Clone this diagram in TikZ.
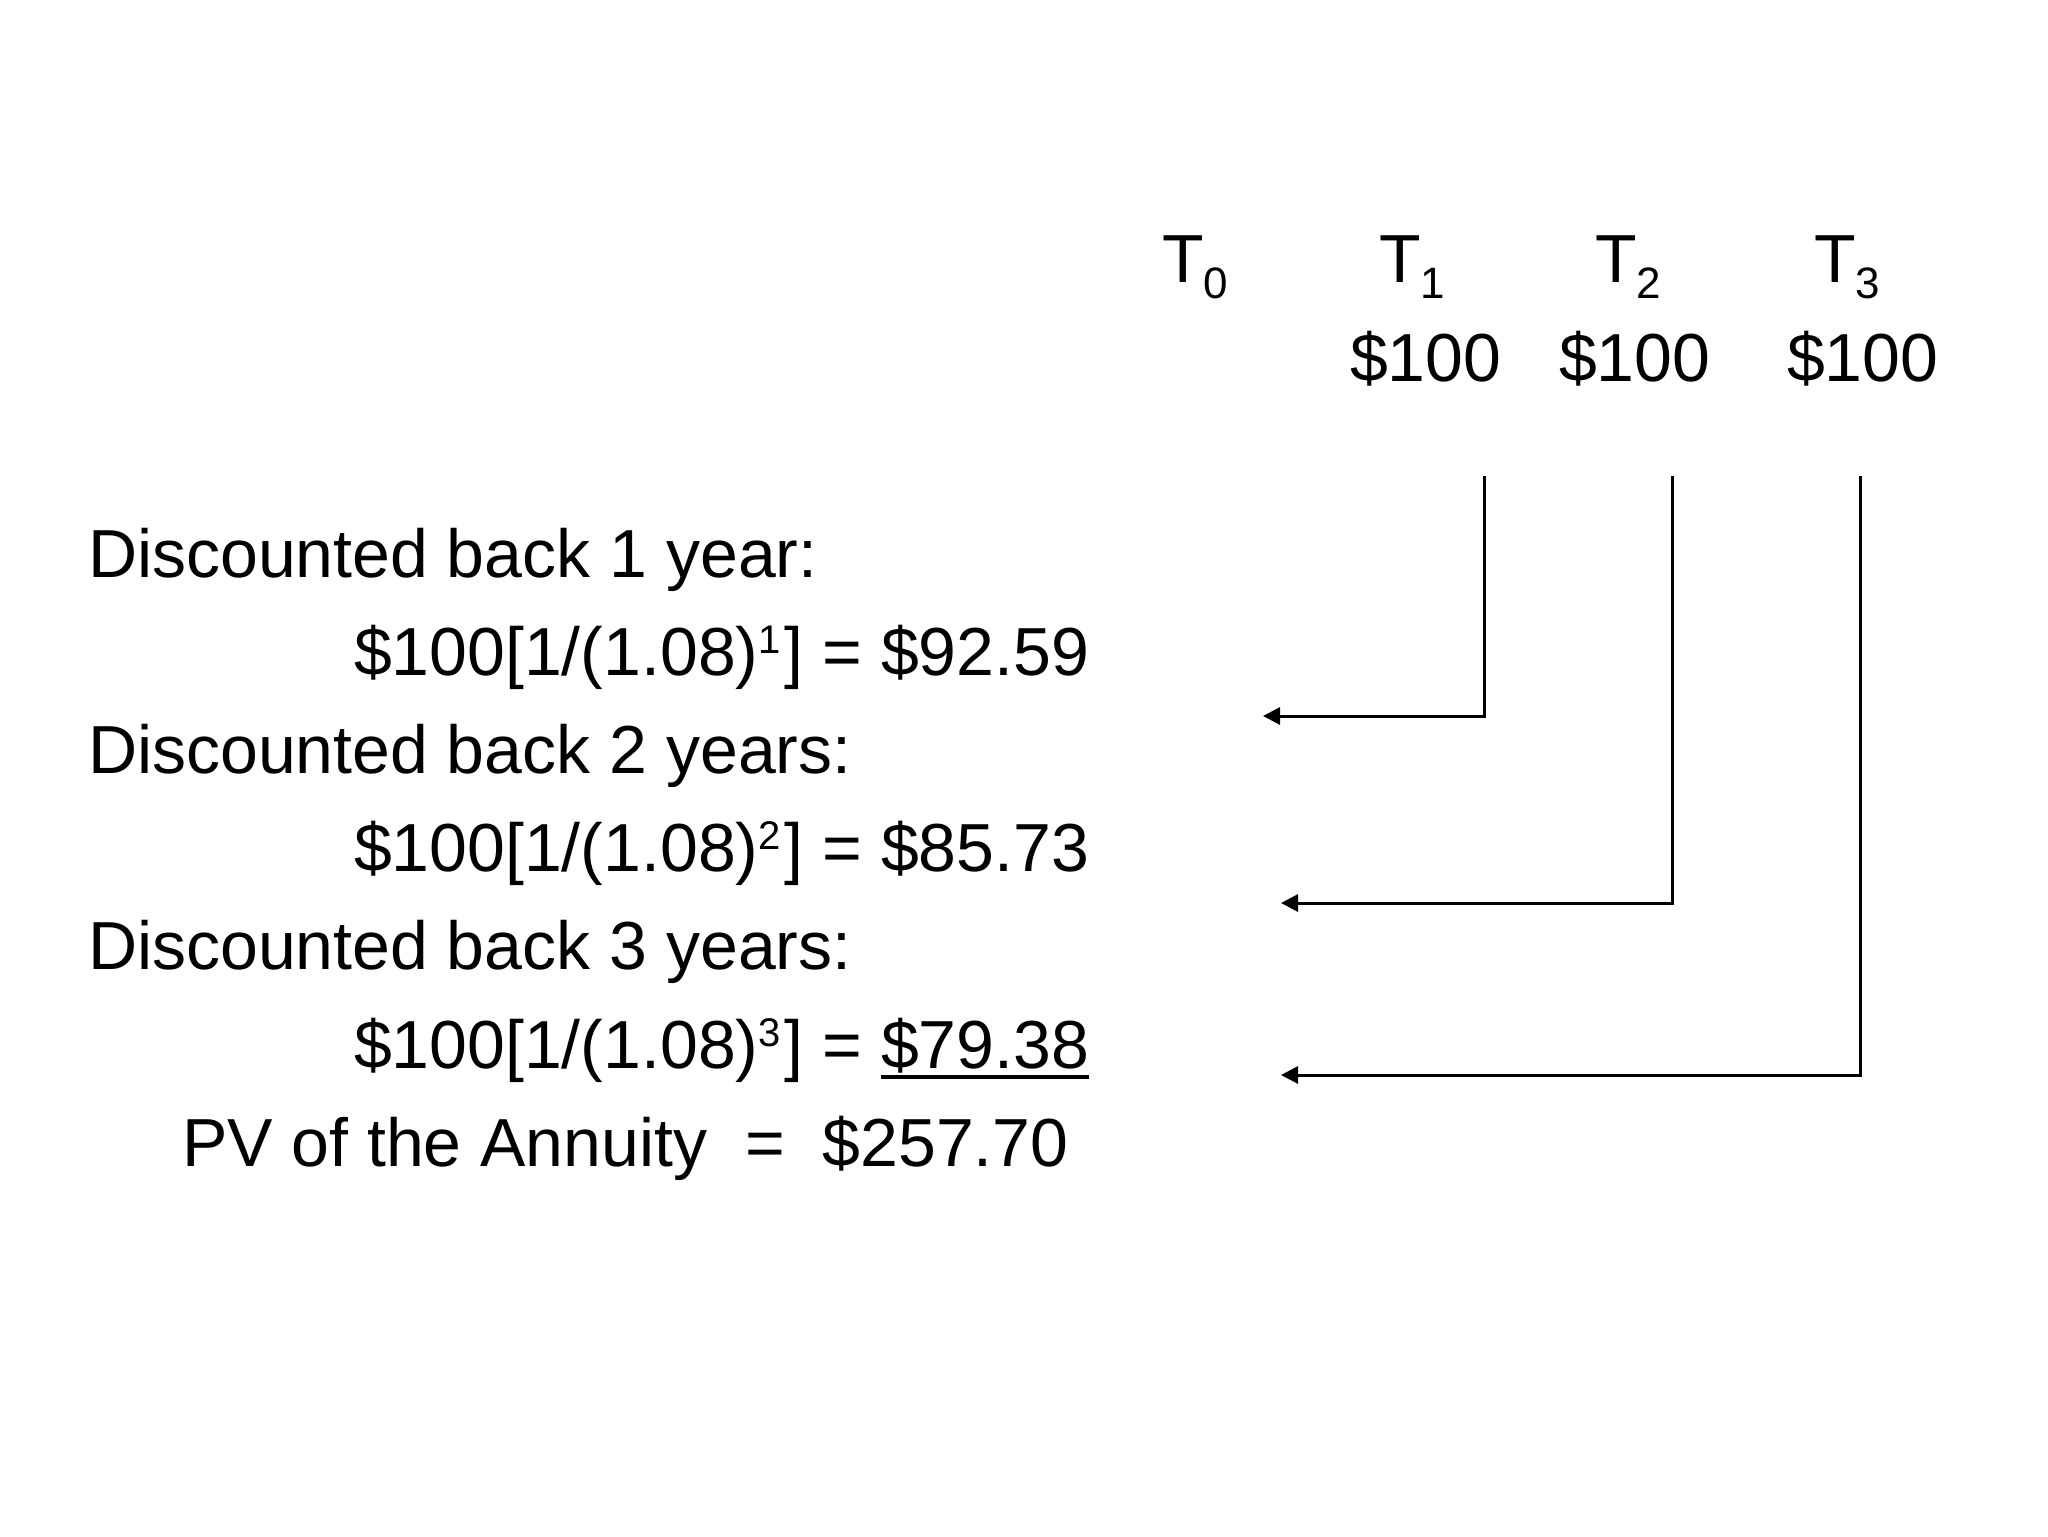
\documentclass[tikz,border=0pt]{standalone}
\usepackage{fontspec}
\setmainfont{Liberation Sans}
\usetikzlibrary{arrows.meta}
\newcommand\supr[1]{\raisebox{11pt}{\fontsize{20}{22}\selectfont #1}\hspace{2pt}}
\newcommand\subs[1]{\raisebox{-8pt}{\fontsize{22}{24}\selectfont #1}}
\newcommand\myul[1]{\setbox0=\hbox{#1}\rlap{\rule[-5.5pt]{\wd0}{2pt}}\box0}
\tikzset{
  txt/.style={anchor=base west, inner sep=0pt, outer sep=0pt, font=\fontsize{34}{40}\selectfont},
  conn/.style={draw=black, line width=1.5pt, -{Triangle[length=8.5pt,width=8.5pt]}}
}
\begin{document}
\begin{tikzpicture}[x=0.5pt,y=-0.5pt]
\useasboundingbox[fill=white] (0,0) rectangle (2048,1536);
% time line header
\node[txt] (t0) at (1162,282) {T\subs{0}};
\node[txt] (t1) at (1379,282) {T\subs{1}};
\node[txt] (t2) at (1595,282) {T\subs{2}};
\node[txt] (t3) at (1814,282) {T\subs{3}};
\node[txt] (c1) at (1350,381) {\$100};
\node[txt] (c2) at (1559,381) {\$100};
\node[txt] (c3) at (1787,381) {\$100};
% left text
\node[txt] (d1) at (88,577) {Discounted back 1 year:};
\node[txt] (f1) at (354,675) {\$100[1/(1.08)\supr{1}] = \$92.59};
\node[txt] (d2) at (88,773) {Discounted back 2 years:};
\node[txt] (f2) at (354,871) {\$100[1/(1.08)\supr{2}] = \$85.73};
\node[txt] (d3) at (88,969) {Discounted back 3 years:};
\node[txt] (f3) at (354,1068) {\$100[1/(1.08)\supr{3}] = \myul{\$79.38}};
\node[txt] (pv) at (182,1166) {PV of the Annuity\ \ =\ \ \$257.70};
% connectors
\coordinate (a1top) at (1484,476);
\coordinate (a1tip) at (1263,716);
\coordinate (a2top) at (1672,476);
\coordinate (a2tip) at (1281,903);
\coordinate (a3top) at (1860,476);
\coordinate (a3tip) at (1281,1075);
\draw[conn] (a1top) |- (a1tip);
\draw[conn] (a2top) |- (a2tip);
\draw[conn] (a3top) |- (a3tip);
\end{tikzpicture}
\end{document}
